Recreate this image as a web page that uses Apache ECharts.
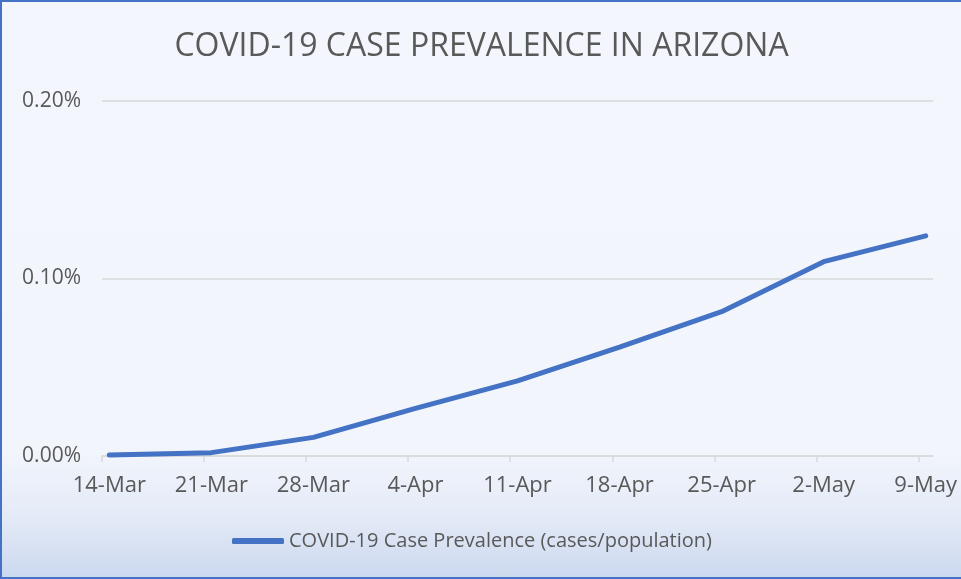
<!DOCTYPE html>
<html>
<head>
<meta charset="utf-8">
<script src="https://cdn.jsdelivr.net/npm/echarts@6/dist/echarts.min.js"></script>
<style>
	body { margin: 0; }
	#main {
		width: 959px;
		height: 575px;
		border: 2px solid #4472c4;
		border-right: none;
		background: linear-gradient(to bottom, #f3f6fd 0%, #f2f5fc 78%, #e3eaf7 90%, #cbd8ee 100%);
	}
</style>
</head>
<body>
<div id="main"></div>
<script>
var weeks = ['14-Mar', '21-Mar', '28-Mar', '4-Apr', '11-Apr', '18-Apr', '25-Apr', '2-May', '9-May'];
var prevalence = [0.000005, 0.000019, 0.000105, 0.000268, 0.000423, 0.000614, 0.000813, 0.001095, 0.00124];
var yTicks = [0, 0.001, 0.002];
var seriesName = 'COVID-19 Case Prevalence (cases/population)';

prevalenceChart("main");
//亚利桑那州病例流行率
function prevalenceChart(id) {
	var lineChart = echarts.init(document.getElementById(id));
	// date axis in days, each point sits in the middle of its day
	var points = prevalence.map(function (v, i) { return [i * 7 + 0.5, v]; });
	var tickDays = weeks.map(function (w, i) { return i * 7; });
	var labelDays = weeks.map(function (w, i) { return i * 7 + 0.5; });
	var option = {
		backgroundColor: 'transparent',
		textStyle: { fontFamily: 'Open Sans' },
		title: {
			text: 'COVID-19 CASE PREVALENCE IN ARIZONA',
			left: 'center',
			top: 24,
			textStyle: {
				fontFamily: 'Open Sans',
				fontSize: 32,
				fontWeight: 'normal',
				color: '#595959'
			}
		},
		legend: {
			left: 225,
			top: 524,
			icon: 'roundRect',
			itemWidth: 52,
			itemHeight: 6,
			textStyle: { fontSize: 20, color: '#595959' },
			data: [seriesName]
		},
		grid: {
			left: 100,
			right: 28,
			top: 99,
			bottom: 121
		},
		xAxis: {
			type: 'value',
			min: 0,
			max: (weeks.length - 1) * 7 + 1,
			splitLine: { show: false },
			axisLine: { lineStyle: { color: '#d9d9d9', width: 1.5 } },
			axisTick: {
				show: true,
				length: 6,
				customValues: tickDays,
				lineStyle: { color: '#d9d9d9', width: 1.5 }
			},
			axisLabel: {
				customValues: labelDays,
				margin: 19,
				fontSize: 22,
				color: '#595959',
				formatter: function (v) {
					return weeks[Math.round((v - 0.5) / 7)];
				}
			}
		},
		yAxis: {
			type: 'value',
			min: 0,
			max: yTicks[yTicks.length - 1],
			interval: yTicks[1] - yTicks[0],
			axisLine: { show: false },
			axisTick: { show: false },
			splitLine: { lineStyle: { color: '#d9d9d9', width: 1.5 } },
			axisLabel: {
				margin: 21,
				fontSize: 21,
				color: '#595959',
				formatter: function (v) {
					return (v * 100).toFixed(2) + '%';
				}
			}
		},
		series: [{
			name: seriesName,
			type: 'line',
			symbol: 'none',
			lineStyle: { color: '#4472c4', width: 5, cap: 'round' },
			itemStyle: { color: '#4472c4' },
			data: points
		}]
	};
	lineChart.setOption(option);
}
</script>
</body>
</html>
